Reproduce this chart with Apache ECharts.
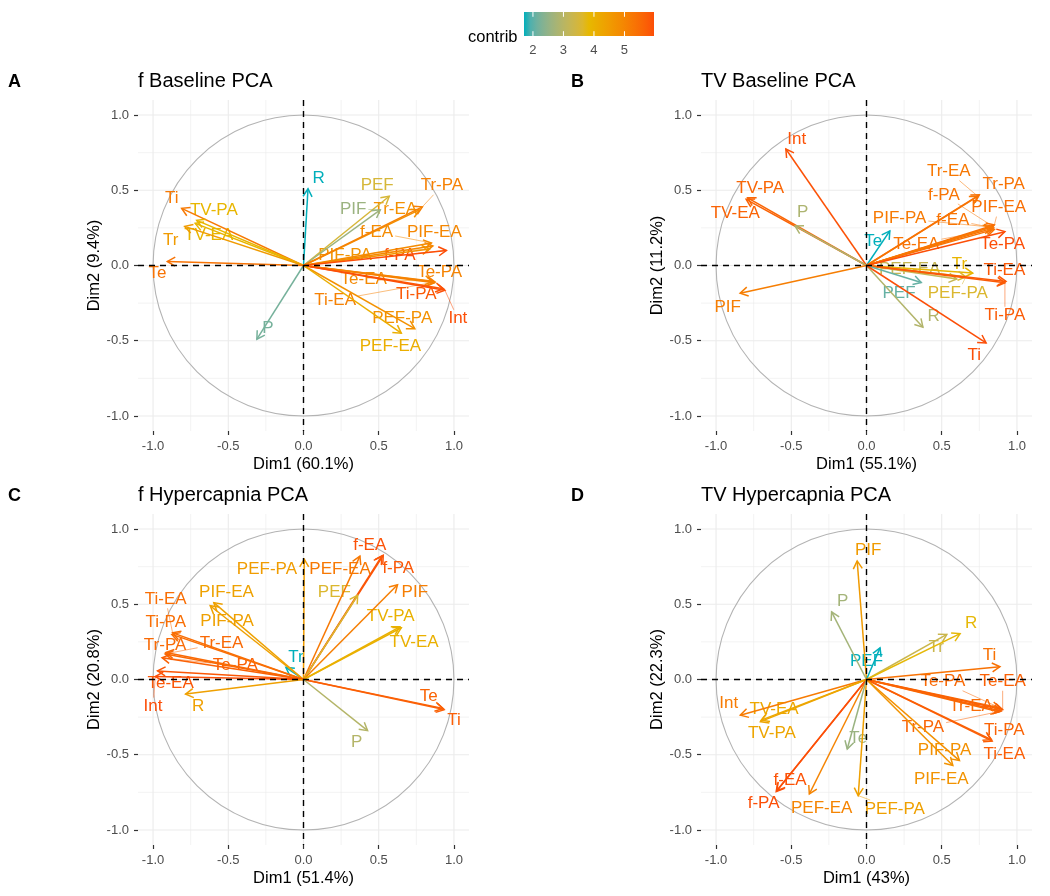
<!DOCTYPE html>
<html>
<head>
<meta charset="utf-8">
<script src="https://cdn.jsdelivr.net/npm/echarts@6/dist/echarts.min.js"></script>
<style>
  html, body { margin: 0; padding: 0; background: #fff; }
  #chart { width: 1050px; height: 896px; }
</style>
</head>
<body>
<div id="chart"></div>
<script>
// ---- data: variable coordinates (Dim1, Dim2) and repelled label positions ----
// A: f Baseline PCA
const pctA = [60.1, 9.4];
const namesA = ['R', 'PEF', 'PIF', 'Tr-EA', 'Tr-PA', 'f-EA', 'PIF-EA', 'PIF-PA', 'f-PA', 'Te-EA', 'Te-PA',
  'Ti-EA', 'Ti-PA', 'Int', 'PEF-PA', 'PEF-EA', 'P', 'Ti', 'TV-PA', 'TV-EA', 'Tr', 'Te'];
const dim1A = [0.03, 0.57, 0.51, 0.77, 0.79, 0.85, 0.86, 0.84, 0.95, 0.86, 0.87,
  0.875, 0.93, 0.94, 0.74, 0.65, -0.31, -0.81, -0.71, -0.72, -0.79, -0.905];
const dim2A = [0.51, 0.46, 0.37, 0.37, 0.39, 0.15, 0.13, 0.11, 0.10, -0.105, -0.115,
  -0.11, -0.155, -0.165, -0.42, -0.45, -0.49, 0.38, 0.30, 0.28, 0.26, 0.027];
const labXA = [0.10, 0.49, 0.33, 0.61, 0.92, 0.486, 0.87, 0.276, 0.64, 0.40, 0.905,
  0.21, 0.75, 1.026, 0.656, 0.578, -0.236, -0.876, -0.596, -0.63, -0.883, -0.97];
const labYA = [0.58, 0.53, 0.376, 0.376, 0.53, 0.22, 0.22, 0.07, 0.07, -0.09, -0.044,
  -0.23, -0.19, -0.354, -0.35, -0.54, -0.42, 0.445, 0.365, 0.20, 0.17, -0.05];

// B: TV Baseline PCA
const pctB = [55.1, 11.2];
const namesB = ['Int', 'TV-PA', 'TV-EA', 'P', 'PIF', 'Te', 'Tr-EA', 'Tr-PA', 'f-PA', 'PIF-EA', 'f-EA',
  'PIF-PA', 'Te-EA', 'Te-PA', 'Tr', 'PEF-EA', 'PEF-PA', 'Ti-EA', 'Ti-PA', 'PEF', 'R', 'Ti'];
const dim1B = [-0.536, -0.79, -0.80, -0.475, -0.84, 0.155, 0.74, 0.75, 0.84, 0.85, 0.845,
  0.83, 0.85, 0.92, 0.706, 0.60, 0.66, 0.927, 0.92, 0.364, 0.375, 0.795];
const dim2B = [0.774, 0.45, 0.44, 0.263, -0.184, 0.23, 0.46, 0.47, 0.26, 0.27, 0.25,
  0.255, 0.24, 0.225, -0.05, -0.09, -0.075, -0.106, -0.115, -0.113, -0.41, -0.515];
const labXB = [-0.464, -0.706, -0.872, -0.424, -0.923, 0.044, 0.547, 0.912, 0.514, 0.879, 0.574,
  0.22, 0.331, 0.905, 0.618, 0.287, 0.607, 0.916, 0.92, 0.216, 0.446, 0.717];
const labYB = [0.838, 0.513, 0.347, 0.354, -0.277, 0.164, 0.624, 0.54, 0.469, 0.385, 0.303,
  0.314, 0.144, 0.144, 0.009, -0.024, -0.184, -0.033, -0.334, -0.184, -0.338, -0.60];

// C: f Hypercapnia PCA
const pctC = [51.4, 20.8];
const namesC = ['f-EA', 'f-PA', 'PEF-EA', 'PEF-PA', 'PEF', 'PIF', 'TV-PA', 'TV-EA', 'Te', 'Ti', 'P',
  'Tr', 'PIF-EA', 'PIF-PA', 'Ti-EA', 'Ti-PA', 'Tr-PA', 'Tr-EA', 'Te-PA', 'Te-EA', 'Int', 'R'];
const dim1C = [0.53, 0.52, 0.375, 0.005, 0.36, 0.625, 0.64, 0.65, 0.927, 0.935, 0.426,
  -0.117, -0.596, -0.62, -0.87, -0.875, -0.915, -0.92, -0.94, -0.97, -0.985, -0.784];
const dim2C = [0.825, 0.82, 0.82, 0.80, 0.56, 0.63, 0.35, 0.344, -0.192, -0.20, -0.34,
  0.08, 0.511, 0.49, 0.31, 0.30, 0.18, 0.17, 0.145, 0.057, 0.02, -0.097];
const labXC = [0.44, 0.63, 0.243, -0.243, 0.205, 0.74, 0.58, 0.735, 0.832, 1.0, 0.353,
  -0.05, -0.512, -0.508, -0.916, -0.916, -0.92, -0.545, -0.453, -0.883, -1.0, -0.70];
const labYC = [0.894, 0.737, 0.732, 0.732, 0.577, 0.577, 0.418, 0.25, -0.113, -0.274, -0.418,
  0.15, 0.582, 0.389, 0.533, 0.383, 0.23, 0.241, 0.091, -0.027, -0.18, -0.175];

// D: TV Hypercapnia PCA
const pctD = [43, 22.3];
const namesD = ['PIF', 'P', 'PEF', 'Tr', 'R', 'Ti', 'Te-PA', 'Te-EA', 'Tr-EA', 'Tr-PA', 'Ti-PA',
  'Ti-EA', 'PIF-PA', 'PIF-EA', 'PEF-PA', 'PEF-EA', 'f-EA', 'f-PA', 'Te', 'Int', 'TV-EA', 'TV-PA'];
const dim1D = [-0.062, -0.232, 0.09, 0.534, 0.622, 0.887, 0.89, 0.905, 0.88, 0.895, 0.83,
  0.835, 0.618, 0.574, -0.055, -0.38, -0.596, -0.60, -0.128, -0.839, -0.70, -0.705];
const dim2D = [0.788, 0.449, 0.21, 0.30, 0.305, 0.085, -0.19, -0.20, -0.215, -0.21, -0.40,
  -0.41, -0.539, -0.572, -0.772, -0.761, -0.739, -0.745, -0.462, -0.237, -0.27, -0.28];
const labXD = [0.011, -0.159, 0.0, 0.464, 0.695, 0.817, 0.508, 0.905, 0.695, 0.375, 0.916,
  0.916, 0.519, 0.497, 0.188, -0.298, -0.508, -0.684, -0.055, -0.916, -0.614, -0.629];
const labYD = [0.861, 0.518, 0.12, 0.212, 0.372, 0.162, -0.015, -0.015, -0.175, -0.319, -0.336,
  -0.496, -0.473, -0.661, -0.861, -0.856, -0.673, -0.82, -0.39, -0.157, -0.201, -0.358];

const axisTicks = [-1, -0.5, 0, 0.5, 1];
const gridBreaks = [-1, -0.75, -0.5, -0.25, 0, 0.25, 0.5, 0.75, 1];
const legendTicks = [2, 3, 4, 5];
const gradientCols = ['#00AFBB', '#E7B800', '#FC4E07'];

const FONT = '"Liberation Sans", Arial, Helvetica, sans-serif';

// ---- colour helpers (Lab interpolation like scales::gradient_n_pal) ----
const WHITE = [0.95047, 1, 1.08883];
function toLin(c) { c /= 255; return c <= 0.04045 ? c / 12.92 : Math.pow((c + 0.055) / 1.055, 2.4); }
function fromLin(c) {
  const v = c <= 0.0031308 ? 12.92 * c : 1.055 * Math.pow(c, 1 / 2.4) - 0.055;
  return Math.round(Math.max(0, Math.min(1, v)) * 255);
}
function fl(t) { return t > 0.008856 ? Math.cbrt(t) : 7.787 * t + 16 / 116; }
function fli(t) { return t > 0.206893 ? t * t * t : (t - 16 / 116) / 7.787; }
function hexToLab(h) {
  const [r, g, b] = [1, 3, 5].map(i => toLin(parseInt(h.slice(i, i + 2), 16)));
  const X = 0.4124 * r + 0.3576 * g + 0.1805 * b;
  const Y = 0.2126 * r + 0.7152 * g + 0.0722 * b;
  const Z = 0.0193 * r + 0.1192 * g + 0.9505 * b;
  const fx = fl(X / WHITE[0]), fy = fl(Y / WHITE[1]), fz = fl(Z / WHITE[2]);
  return [116 * fy - 16, 500 * (fx - fy), 200 * (fy - fz)];
}
function labToRgb(lab) {
  const fy = (lab[0] + 16) / 116, fx = fy + lab[1] / 500, fz = fy - lab[2] / 200;
  const X = WHITE[0] * fli(fx), Y = WHITE[1] * fli(fy), Z = WHITE[2] * fli(fz);
  const r = 3.2406 * X - 1.5372 * Y - 0.4986 * Z;
  const g = -0.9689 * X + 1.8758 * Y + 0.0415 * Z;
  const b = 0.0557 * X - 0.2040 * Y + 1.0570 * Z;
  return 'rgb(' + [r, g, b].map(fromLin).join(',') + ')';
}
const labStops = gradientCols.map(hexToLab);
function gradient(t) {
  t = Math.max(0, Math.min(1, t));
  const seg = t < 0.5 ? 0 : 1;
  const u = (t - seg * 0.5) * 2;
  const a = labStops[seg], b = labStops[seg + 1];
  return labToRgb([0, 1, 2].map(k => a[k] + (b[k] - a[k]) * u));
}

// contribution of a variable to Dim1+Dim2 (factoextra definition)
function contribOf(d1, d2, pct) {
  const eig = (pct[0] + pct[1]) / 100 * d1.length;
  return d1.map((x, i) => 100 * (x * x + d2[i] * d2[i]) / eig);
}

const panels = [
  { tag: 'A', title: 'f Baseline PCA', pct: pctA, names: namesA, d1: dim1A, d2: dim2A, lx: labXA, ly: labYA, left: 138, top: 100 },
  { tag: 'B', title: 'TV Baseline PCA', pct: pctB, names: namesB, d1: dim1B, d2: dim2B, lx: labXB, ly: labYB, left: 701, top: 100 },
  { tag: 'C', title: 'f Hypercapnia PCA', pct: pctC, names: namesC, d1: dim1C, d2: dim2C, lx: labXC, ly: labYC, left: 138, top: 514 },
  { tag: 'D', title: 'TV Hypercapnia PCA', pct: pctD, names: namesD, d1: dim1D, d2: dim2D, lx: labXD, ly: labYD, left: 701, top: 514 }
];
const SIZE = 331;

panels.forEach(p => {
  p.contrib = contribOf(p.d1, p.d2, p.pct);
  p.cmin = Math.min(...p.contrib);
  p.cmax = Math.max(...p.contrib);
  p.cols = p.contrib.map(c => gradient((c - p.cmin) / (p.cmax - p.cmin)));
});

const measure = document.createElement('canvas').getContext('2d');
measure.font = '17px ' + FONT;

const grids = [], xAxes = [], yAxes = [], series = [], titles = [];
const fmt = v => v.toFixed(1);

panels.forEach((p, gi) => {
  grids.push({ left: p.left, top: p.top, width: SIZE, height: SIZE });
  const common = {
    gridIndex: gi, type: 'value', min: -1.1, max: 1.1,
    nameLocation: 'middle',
    nameTextStyle: { color: '#000', fontSize: 16.5, fontFamily: FONT },
    axisLine: { show: false, onZero: false },
    axisTick: { show: true, customValues: axisTicks, length: 4, lineStyle: { color: '#333', width: 1.2 } },
    axisLabel: { customValues: axisTicks, formatter: fmt, color: '#4D4D4D', fontSize: 13, fontFamily: FONT, margin: 9 },
    splitLine: { show: false }
  };
  xAxes.push(Object.assign({}, common, { name: 'Dim1 (' + p.pct[0] + '%)', nameGap: 25 }));
  yAxes.push(Object.assign({}, common, { name: 'Dim2 (' + p.pct[1] + '%)', nameGap: 33 }));

  const base = { type: 'custom', coordinateSystem: 'cartesian2d', xAxisIndex: gi, yAxisIndex: gi, silent: true, animation: false };

  // background grid lines
  series.push(Object.assign({}, base, {
    z: 0,
    data: gridBreaks.map(v => [v, 0]),
    renderItem(params, api) {
      const v = api.value(0), cs = params.coordSys;
      const px = api.coord([v, 0])[0], py = api.coord([0, v])[1];
      const major = axisTicks.indexOf(v) >= 0;
      const style = { stroke: '#EBEBEB', lineWidth: major ? 1.1 : 0.6 };
      return { type: 'group', children: [
        { type: 'line', shape: { x1: px, y1: cs.y, x2: px, y2: cs.y + cs.height }, style },
        { type: 'line', shape: { x1: cs.x, y1: py, x2: cs.x + cs.width, y2: py }, style }
      ] };
    }
  }));

  // correlation circle
  series.push(Object.assign({}, base, {
    z: 1,
    data: [[0, 0]],
    renderItem(params, api) {
      const c = api.coord([0, 0]);
      const r = api.coord([1, 0])[0] - c[0];
      return { type: 'circle', shape: { cx: c[0], cy: c[1], r }, style: { fill: null, stroke: '#B3B3B3', lineWidth: 1.1 } };
    }
  }));

  // labels with repel segments
  series.push(Object.assign({}, base, {
    z: 2,
    data: p.names.map((n, i) => [p.lx[i], p.ly[i], p.d1[i], p.d2[i], i]),
    renderItem(params, api) {
      const i = api.value(4);
      const col = p.cols[i];
      const c = api.coord([api.value(0), api.value(1)]);
      const t = api.coord([api.value(2), api.value(3)]);
      const children = [];
      const hw = measure.measureText(p.names[i]).width / 2 + 2, hh = 9;
      const dx = t[0] - c[0], dy = t[1] - c[1];
      const k = Math.min(dx ? hw / Math.abs(dx) : Infinity, dy ? hh / Math.abs(dy) : Infinity);
      if (k < 1) {
        const q = [c[0] + dx * k, c[1] + dy * k];
        const len = Math.hypot(t[0] - q[0], t[1] - q[1]);
        if (len > 8) {
          children.push({ type: 'line', shape: { x1: q[0], y1: q[1], x2: t[0], y2: t[1] },
            style: { stroke: col, lineWidth: 0.7, opacity: 0.75 } });
        }
      }
      children.push({ type: 'text', x: c[0], y: c[1],
        style: { text: p.names[i], fill: col, fontSize: 17, fontFamily: FONT, align: 'center', verticalAlign: 'middle' } });
      return { type: 'group', children };
    }
  }));

  // arrows
  series.push(Object.assign({}, base, {
    z: 3,
    data: p.names.map((n, i) => [p.d1[i], p.d2[i], i]),
    renderItem(params, api) {
      const i = api.value(2);
      const col = p.cols[i];
      const o = api.coord([0, 0]);
      const e = api.coord([api.value(0), api.value(1)]);
      const ang = Math.atan2(e[1] - o[1], e[0] - o[0]);
      const L = 9, a = Math.PI / 6;
      const h1 = [e[0] - L * Math.cos(ang - a), e[1] - L * Math.sin(ang - a)];
      const h2 = [e[0] - L * Math.cos(ang + a), e[1] - L * Math.sin(ang + a)];
      const style = { stroke: col, fill: null, lineWidth: 1.5 };
      return { type: 'group', children: [
        { type: 'line', shape: { x1: o[0], y1: o[1], x2: e[0], y2: e[1] }, style },
        { type: 'polyline', shape: { points: [h1, e, h2] }, style }
      ] };
    }
  }));

  // dashed zero lines on top
  series.push(Object.assign({}, base, {
    z: 4,
    data: [[0, 0]],
    renderItem(params, api) {
      const c = api.coord([0, 0]), cs = params.coordSys;
      const style = { stroke: '#000', lineWidth: 1.4, lineDash: [6, 5] };
      return { type: 'group', children: [
        { type: 'line', shape: { x1: cs.x, y1: c[1], x2: cs.x + cs.width, y2: c[1] }, style },
        { type: 'line', shape: { x1: c[0], y1: cs.y, x2: c[0], y2: cs.y + cs.height }, style }
      ] };
    }
  }));

  titles.push({ text: p.tag, left: p.left - 130, top: p.top - 27, padding: 0,
    textStyle: { fontSize: 18, fontWeight: 'bold', color: '#000', fontFamily: FONT } });
  titles.push({ text: p.title, left: p.left, top: p.top - 29, padding: 0,
    textStyle: { fontSize: 20, fontWeight: 'normal', color: '#000', fontFamily: FONT } });
});

// ---- colour bar legend (scale of panel A) ----
const leg = panels[0];
const LG = panels.length;
grids.push({ left: 524, top: 12, width: 130, height: 24 });
xAxes.push({
  gridIndex: LG, type: 'value', min: leg.cmin, max: leg.cmax,
  axisLine: { show: false, onZero: false }, axisTick: { show: false }, splitLine: { show: false },
  axisLabel: { customValues: legendTicks, formatter: v => String(v), color: '#4D4D4D', fontSize: 13, fontFamily: FONT, margin: 8 }
});
yAxes.push({ gridIndex: LG, type: 'value', min: 0, max: 1, show: false });
const barStops = [];
for (let s = 0; s <= 20; s++) barStops.push({ offset: s / 20, color: gradient(s / 20) });
series.push({
  type: 'custom', coordinateSystem: 'cartesian2d', xAxisIndex: LG, yAxisIndex: LG, silent: true, z: 2,
  data: legendTicks.map(v => [v, 0]),
  renderItem(params, api) {
    const cs = params.coordSys;
    const x = api.coord([api.value(0), 0])[0];
    const tl = cs.height / 5;
    const children = [
      { type: 'line', shape: { x1: x, y1: cs.y, x2: x, y2: cs.y + tl }, style: { stroke: '#fff', lineWidth: 1 } },
      { type: 'line', shape: { x1: x, y1: cs.y + cs.height - tl, x2: x, y2: cs.y + cs.height }, style: { stroke: '#fff', lineWidth: 1 } }
    ];
    if (params.dataIndex === 0) {
      children.unshift({ type: 'rect', shape: { x: cs.x, y: cs.y, width: cs.width, height: cs.height },
        style: { fill: { type: 'linear', x: 0, y: 0, x2: 1, y2: 0, colorStops: barStops } } });
    }
    return { type: 'group', children };
  }
});
titles.push({ text: 'contrib', left: 468, top: 29, padding: 0,
  textStyle: { fontSize: 16.5, fontWeight: 'normal', color: '#000', fontFamily: FONT } });

const chart = echarts.init(document.getElementById('chart'), null, { renderer: 'canvas' });
chart.setOption({
  animation: false,
  backgroundColor: '#fff',
  title: titles,
  grid: grids,
  xAxis: xAxes,
  yAxis: yAxes,
  series
});
</script>
</body>
</html>
